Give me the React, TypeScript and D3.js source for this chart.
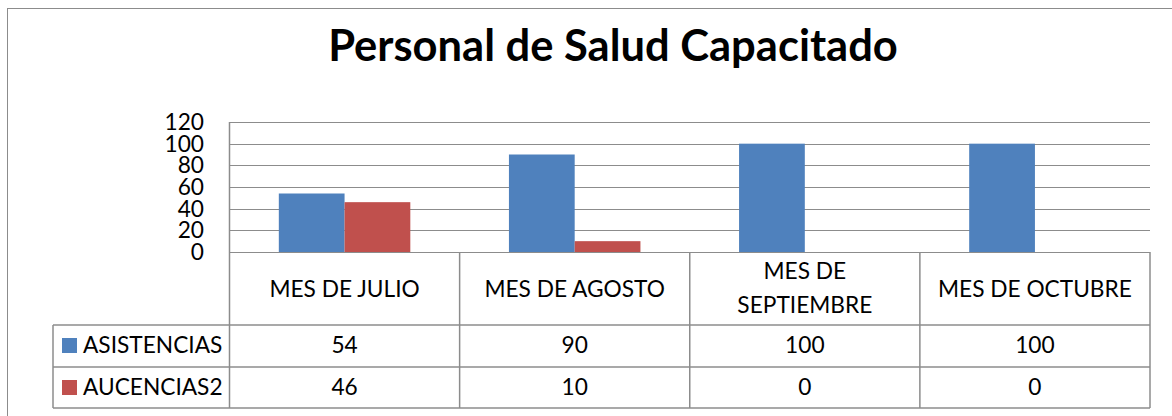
import React, { useEffect, useRef } from 'react';
import * as d3 from 'd3';

const categories = ['MES DE JULIO', 'MES DE AGOSTO', 'MES DE SEPTIEMBRE', 'MES DE OCTUBRE'];
const seriesNames = ['ASISTENCIAS', 'AUCENCIAS2'];
const asistencias = [54, 90, 100, 100];
const aucencias = [46, 10, 0, 0];
const yTicks = [0, 20, 40, 60, 80, 100, 120];
const colors = ['#4F81BD', '#C0504D'];

// long labels get wrapped in the table header like excel does
const headerLines: { [k: string]: string[] } = {
  'MES DE SEPTIEMBRE': ['MES DE', 'SEPTIEMBRE'],
};

const FONT = 'Lato, "Open Sans", sans-serif';
const FS = 22.7;

export default function App() {
  const ref = useRef<SVGSVGElement>(null);

  useEffect(() => {
    const svg = d3.select(ref.current);
    svg.selectAll('*').remove();

    const left = 229.5, right = 1150, top = 122, zero = 252;
    const row1 = 325, row2 = 367, bottomRow = 408, legendLeft = 53;
    const grey = '#8c8c8c';

    // outer chart frame (runs past the visible window)
    svg.append('rect')
      .attr('x', 7.5).attr('y', 8.5)
      .attr('width', 1250).attr('height', 500)
      .attr('fill', 'white')
      .attr('stroke', grey);

    svg.append('text')
      .attr('x', 613).attr('y', 61)
      .attr('text-anchor', 'middle')
      .attr('font-family', FONT)
      .attr('font-weight', 'bold')
      .attr('font-size', 43.5)
      .text('Personal de Salud Capacitado');

    const x = d3.scaleBand().domain(categories).range([left, right]).paddingInner(0).paddingOuter(0);
    const xs = d3.scaleBand().domain(seriesNames).range([0, x.bandwidth()]).paddingInner(0).paddingOuter(0.75);
    const y = d3.scaleLinear().domain([0, 120]).range([zero, top]);

    // gridlines
    svg.append('g').selectAll('line')
      .data(yTicks)
      .enter().append('line')
      .attr('x1', left).attr('x2', right)
      .attr('y1', d => Math.round(y(d)) + 0.5).attr('y2', d => Math.round(y(d)) + 0.5)
      .attr('stroke', grey).attr('stroke-width', 1.2);

    // y labels
    svg.append('g').selectAll('text')
      .data(yTicks)
      .enter().append('text')
      .attr('x', 204)
      .attr('y', d => y(d) + 8)
      .attr('text-anchor', 'end')
      .attr('font-family', FONT)
      .attr('font-size', FS)
      .text(d => d);

    const series = [asistencias, aucencias];
    series.forEach((vals, si) => {
      svg.append('g').selectAll('rect')
        .data(vals)
        .enter().append('rect')
        .attr('x', (d, i) => (x(categories[i]) as number) + (xs(seriesNames[si]) as number))
        .attr('width', xs.bandwidth())
        .attr('y', d => y(d))
        .attr('height', d => zero - y(d))
        .attr('fill', colors[si]);
    });

    // data table lines
    const lines = svg.append('g').attr('stroke', grey).attr('stroke-width', 1.5);
    lines.append('line').attr('x1', left).attr('x2', left).attr('y1', top).attr('y2', bottomRow);
    categories.forEach(c => {
      const xr = (x(c) as number) + x.bandwidth();
      lines.append('line').attr('x1', xr).attr('x2', xr).attr('y1', zero).attr('y2', bottomRow);
    });
    lines.append('line').attr('x1', legendLeft).attr('x2', legendLeft).attr('y1', row1).attr('y2', bottomRow);
    [row1, row2, bottomRow].forEach(yy => {
      lines.append('line').attr('x1', legendLeft).attr('x2', right).attr('y1', yy).attr('y2', yy);
    });

    // header labels
    categories.forEach(c => {
      const cx = (x(c) as number) + x.bandwidth() / 2;
      const parts = headerLines[c] || [c];
      const base = parts.length === 1 ? 297 : 279;
      parts.forEach((p, i) => {
        svg.append('text')
          .attr('x', cx).attr('y', base + i * 34)
          .attr('text-anchor', 'middle')
          .attr('font-family', FONT)
          .attr('font-size', FS)
          .text(p);
      });
    });

    // rows
    const rowBase = [353, 395];
    series.forEach((vals, si) => {
      svg.append('rect')
        .attr('x', 62).attr('y', rowBase[si] - 15)
        .attr('width', 15).attr('height', 15)
        .attr('fill', colors[si]);
      svg.append('text')
        .attr('x', 83).attr('y', rowBase[si])
        .attr('font-family', FONT)
        .attr('font-size', FS)
        .text(seriesNames[si]);
      vals.forEach((v, i) => {
        svg.append('text')
          .attr('x', (x(categories[i]) as number) + x.bandwidth() / 2)
          .attr('y', rowBase[si])
          .attr('text-anchor', 'middle')
          .attr('font-family', FONT)
          .attr('font-size', FS)
          .text(v);
      });
    });
  }, []);

  return (
    <svg
      ref={ref}
      width={1172}
      height={416}
      style={{ position: 'absolute', left: 0, top: 0, display: 'block' }}
    />
  );
}
